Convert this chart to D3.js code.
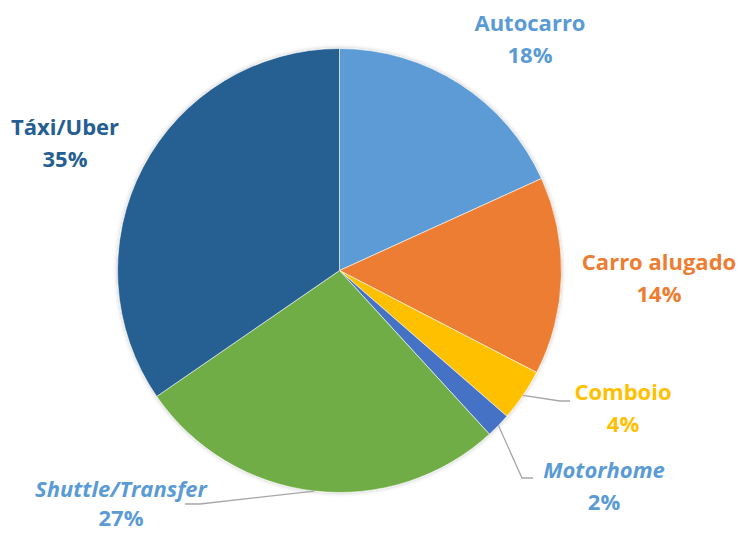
<!DOCTYPE html>
<html>
<head>
<meta charset="utf-8">
<script src="https://cdn.jsdelivr.net/npm/d3@7"></script>
<style>
  body { margin: 0; background: #fff; }
  svg { display: block; }
</style>
</head>
<body>
<div id="container"></div>
<script>
const categories = ["Autocarro", "Carro alugado", "Comboio", "Motorhome", "Shuttle/Transfer", "Táxi/Uber"];
const values = [18.2, 14.4, 3.8, 1.8, 27.2, 34.6];
const colors = ["#5B9BD5", "#ED7D31", "#FFC000", "#4472C4", "#70AD47", "#255E91"];
const labelColors = ["#5B9BD5", "#ED7D31", "#FFC000", "#5B9BD5", "#5B9BD5", "#255E91"];
const italic = [false, false, false, true, true, false];
// label anchor (centre x, first baseline y) and leader line bend points
const labelPos = [[530, 31], [659, 270], [623, 400], [604, 478], [121, 497], [65, 135]];
const leader = [null, null, [[560, 401], [570, 401]], [[522, 478], [533, 478]], [[200, 504], [185, 504]], null];

const w = 741;
const h = 533;
const cx = 339.5, cy = 270.5, r = 222;

const svg = d3.select("#container")
  .append("svg")
  .attr("width", w)
  .attr("height", h);

const defs = svg.append("defs");
const f = defs.append("filter").attr("id", "shadow")
  .attr("x", "-10%").attr("y", "-10%").attr("width", "120%").attr("height", "120%");
f.append("feDropShadow")
  .attr("dx", 0).attr("dy", 0).attr("stdDeviation", 2)
  .attr("flood-color", "#000").attr("flood-opacity", 0.25);

const pie = d3.pie().sort(null).value(d => d);
const arcs = pie(values);
const arc = d3.arc().innerRadius(0).outerRadius(r);

const g = svg.append("g").attr("transform", `translate(${cx},${cy})`);
const slices = g.append("g").attr("filter", "url(#shadow)");
slices.selectAll("path")
  .data(arcs)
  .enter()
  .append("path")
  .attr("d", arc)
  .attr("fill", (d, i) => colors[i])
  .attr("stroke", "#fff")
  .attr("stroke-width", 0.6);

// leader lines
arcs.forEach((d, i) => {
  if (!leader[i]) return;
  const a = (d.startAngle + d.endAngle) / 2;
  const start = [cx + r * Math.sin(a), cy - r * Math.cos(a)];
  svg.append("path")
    .attr("d", d3.line()([start, ...leader[i]]))
    .attr("fill", "none")
    .attr("stroke", "#A6A6A6")
    .attr("stroke-width", 1.3);
});

const total = d3.sum(values);
const labels = svg.append("g")
  .attr("font-family", "'Open Sans', sans-serif")
  .attr("font-weight", "bold")
  .attr("font-size", 22)
  .attr("text-anchor", "middle");

categories.forEach((c, i) => {
  const t = labels.append("text")
    .attr("x", labelPos[i][0])
    .attr("y", labelPos[i][1])
    .attr("fill", labelColors[i]);
  t.append("tspan")
    .attr("x", labelPos[i][0])
    .attr("font-style", italic[i] ? "italic" : "normal")
    .text(c);
  t.append("tspan")
    .attr("x", labelPos[i][0])
    .attr("dy", i === 4 ? 29 : 32)
    .text(Math.round(values[i] / total * 100) + "%");
});
</script>
</body>
</html>
